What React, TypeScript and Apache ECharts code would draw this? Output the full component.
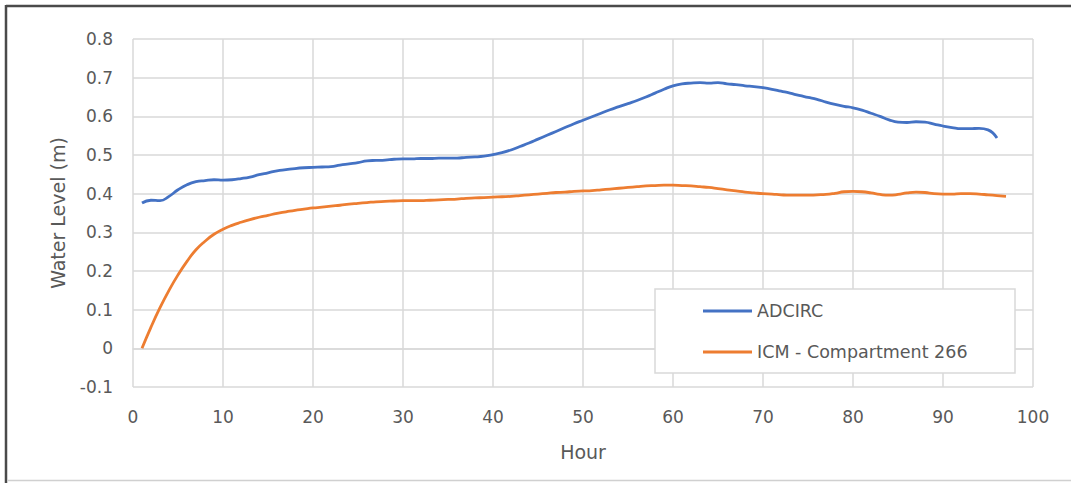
import React, { useEffect, useRef } from "react";
import * as echarts from "echarts";

const hours: number[] = [
  1, 2, 3, 4, 5, 6, 7, 8, 9, 10, 11, 12, 13, 14, 15, 16, 17, 18, 19, 20,
  21, 22, 23, 24, 25, 26, 27, 28, 29, 30, 31, 32, 33, 34, 35, 36, 37, 38, 39, 40,
  41, 42, 43, 44, 45, 46, 47, 48, 49, 50, 51, 52, 53, 54, 55, 56, 57, 58, 59, 60,
  61, 62, 63, 64, 65, 66, 67, 68, 69, 70, 71, 72, 73, 74, 75, 76, 77, 78, 79, 80,
  81, 82, 83, 84, 85, 86, 87, 88, 89, 90, 91, 92, 93, 94, 95, 96, 97,
];

const adcirc: number[] = [
  0.376, 0.383, 0.382, 0.393, 0.41, 0.423, 0.431, 0.434, 0.436, 0.435,
  0.436, 0.439, 0.443, 0.449, 0.454, 0.459, 0.462, 0.465, 0.467, 0.468,
  0.469, 0.47, 0.474, 0.477, 0.48, 0.485, 0.486, 0.487, 0.489, 0.49,
  0.49, 0.491, 0.491, 0.492, 0.492, 0.492, 0.494, 0.495, 0.497, 0.501,
  0.506, 0.513, 0.522, 0.531, 0.541, 0.551, 0.561, 0.571, 0.581, 0.59,
  0.599, 0.608, 0.617, 0.625, 0.633, 0.641, 0.65, 0.66, 0.67, 0.679,
  0.684, 0.686, 0.687, 0.686, 0.687, 0.684, 0.682, 0.679, 0.677, 0.674,
  0.67, 0.665, 0.66, 0.654, 0.649, 0.644, 0.637, 0.631, 0.626, 0.622,
  0.616, 0.608, 0.6, 0.591, 0.585, 0.584, 0.586, 0.585, 0.58, 0.575,
  0.571, 0.568, 0.568, 0.569, 0.565, 0.544,
];

const icm: number[] = [
  0.0, 0.055, 0.105, 0.15, 0.19, 0.225, 0.255, 0.277, 0.295, 0.308,
  0.318, 0.326, 0.333, 0.339, 0.344, 0.349, 0.353, 0.357, 0.36, 0.363,
  0.365, 0.368, 0.37, 0.373, 0.375, 0.377, 0.379, 0.38, 0.381, 0.382,
  0.382, 0.382, 0.383, 0.384, 0.385, 0.386, 0.388, 0.389, 0.39, 0.391,
  0.392, 0.393, 0.395, 0.397, 0.399, 0.401, 0.403, 0.404, 0.406, 0.407,
  0.408, 0.41, 0.412, 0.414, 0.416, 0.418, 0.42, 0.421, 0.422, 0.422,
  0.421, 0.42, 0.418, 0.416, 0.413, 0.41, 0.407, 0.404, 0.402, 0.4,
  0.399, 0.397, 0.396, 0.396, 0.396, 0.397, 0.398, 0.401, 0.405, 0.406,
  0.405, 0.402, 0.398, 0.396, 0.398, 0.402, 0.404, 0.403, 0.4, 0.399,
  0.399, 0.4, 0.4, 0.399, 0.397, 0.395, 0.393,
];

const seriesNames: string[] = ["ADCIRC", "ICM - Compartment 266"];
const seriesColors: string[] = ["#4472C4", "#ED7D31"];

const FONT = "'DejaVu Sans', 'Open Sans', sans-serif";
const LABEL = "#595959";
const GRID = "#d9d9d9";

export default function App() {
  const ref = useRef<HTMLDivElement>(null);

  useEffect(() => {
    if (!ref.current) return;
    const chart = echarts.init(ref.current, undefined, { renderer: "svg" });
    const pairs = (vals: number[]) => vals.map((v, i) => [hours[i], v]);
    chart.setOption({
      animation: false,
      backgroundColor: "#ffffff",
      textStyle: { fontFamily: FONT },
      grid: { left: 133, top: 39, right: 38, bottom: 96, containLabel: false },
      xAxis: {
        type: "value",
        min: 0,
        max: 100,
        interval: 10,
        name: "Hour",
        nameLocation: "middle",
        nameGap: 55,
        nameTextStyle: { color: LABEL, fontSize: 19, fontFamily: FONT },
        axisLine: { show: true, lineStyle: { color: GRID, width: 1.5 } },
        axisTick: { show: false },
        axisLabel: { color: LABEL, fontSize: 17, fontFamily: FONT, margin: 21 },
        splitLine: { show: true, lineStyle: { color: GRID, width: 1.5 } },
      },
      yAxis: {
        type: "value",
        min: -0.1,
        max: 0.8,
        interval: 0.1,
        name: "Water Level (m)",
        nameLocation: "middle",
        nameGap: 66,
        nameTextStyle: { color: LABEL, fontSize: 19, fontFamily: FONT },
        axisLine: { show: false },
        axisTick: { show: false },
        axisLabel: {
          color: LABEL,
          fontSize: 17,
          fontFamily: FONT,
          margin: 20,
          formatter: (v: number) => {
            const r = Math.round(v * 10) / 10;
            return r === 0 ? "0" : String(r);
          },
        },
        splitLine: { show: true, lineStyle: { color: GRID, width: 1.5 } },
      },
      legend: {
        orient: "vertical",
        left: 703,
        top: 301,
        icon: "rect",
        itemWidth: 49,
        itemHeight: 3,
        itemGap: 21,
        padding: 0,
        z: 20,
        textStyle: { color: LABEL, fontSize: 17.5, fontFamily: FONT, lineHeight: 20 },
        data: seriesNames,
      },
      graphic: [
        {
          type: "rect",
          shape: { x: 655, y: 289, width: 360, height: 84 },
          style: { fill: "#ffffff", stroke: GRID, lineWidth: 1.5 },
          z: 5,
          silent: true,
        },
        {
          type: "line",
          shape: { x1: 6, y1: 6, x2: 1071, y2: 6 },
          style: { stroke: "#4a4a4a", lineWidth: 2.5 },
          silent: true,
        },
        {
          type: "line",
          shape: { x1: 6, y1: 5, x2: 6, y2: 483 },
          style: { stroke: "#4a4a4a", lineWidth: 2.5 },
          silent: true,
        },
        {
          type: "line",
          shape: { x1: 8, y1: 480.5, x2: 1071, y2: 480.5 },
          style: { stroke: "#d0d0d0", lineWidth: 1.5 },
          silent: true,
        },
      ],
      series: [
        {
          name: seriesNames[0],
          type: "line",
          data: pairs(adcirc),
          showSymbol: false,
          symbol: "none",
          smooth: true,
          lineStyle: { color: seriesColors[0], width: 2.8 },
          itemStyle: { color: seriesColors[0] },
          z: 3,
        },
        {
          name: seriesNames[1],
          type: "line",
          data: pairs(icm),
          showSymbol: false,
          symbol: "none",
          smooth: true,
          lineStyle: { color: seriesColors[1], width: 2.8 },
          itemStyle: { color: seriesColors[1] },
          z: 3,
        },
      ],
    });
    return () => chart.dispose();
  }, []);

  return (
    <div
      ref={ref}
      style={{ position: "absolute", left: 0, top: 0, width: 1071, height: 483 }}
    />
  );
}
